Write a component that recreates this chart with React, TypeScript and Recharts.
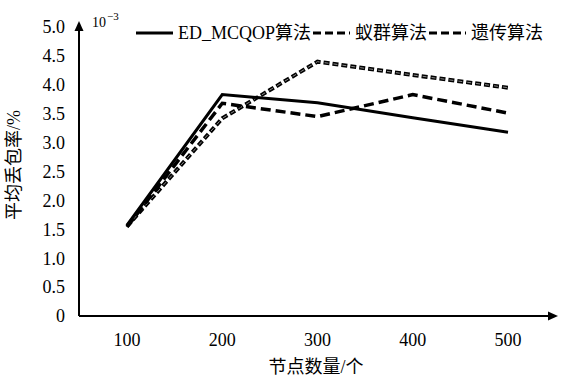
import React from 'react';
import { LineChart, Line, XAxis, YAxis, Legend, Label } from 'recharts';

const categories = ['100', '200', '300', '400', '500'];
const edMcqop = [1.57, 3.83, 3.69, 3.43, 3.18];
const antColony = [1.54, 3.68, 3.45, 3.83, 3.51];
const genetic = [1.55, 3.42, 4.4, 4.17, 3.95];
const yTicks = [0, 0.5, 1, 1.5, 2, 2.5, 3, 3.5, 4, 4.5, 5];
const seriesNames = ['ED_MCQOP算法', '蚁群算法', '遗传算法'];
const xLabel = '节点数量/个';
const yLabel = '平均丢包率/%';

const data = categories.map((c, i) => ({
  node: c,
  ed: edMcqop[i],
  ant: antColony[i],
  ga: genetic[i],
}));

const FONT = '"Liberation Serif", "DejaVu Serif", "Noto Sans CJK SC", serif';

const LegendContent = () => (
  <div
    style={{
      display: 'flex',
      alignItems: 'center',
      whiteSpace: 'nowrap',
      fontFamily: FONT,
      fontSize: 18,
      color: '#000',
      lineHeight: '22px',
    }}
  >
    {seriesNames.map((n, i) => (
      <div key={n} style={{ display: 'flex', alignItems: 'center' }}>
        <svg width={37} height={10} style={{ display: 'block' }}>
          <line
            x1={0}
            y1={5}
            x2={37}
            y2={5}
            stroke="#000"
            strokeWidth={3}
            strokeDasharray={i === 0 ? undefined : '8 4'}
          />
        </svg>
        <span style={{ marginLeft: 5, marginRight: 2 }}>{n}</span>
      </div>
    ))}
  </div>
);

const YArrow = (props: any) => {
  const vb = props.viewBox || {};
  const ax = vb.x + vb.width;
  const ay = vb.y;
  return (
    <g>
      <path d={`M${ax},${ay - 6} L${ax - 4.5},${ay + 4} L${ax + 4.5},${ay + 4} z`} fill="#000" />
      <text
        x={20}
        y={165}
        transform="rotate(-90 20 165)"
        textAnchor="middle"
        fontFamily={FONT}
        fontSize={18}
        fill="#000"
      >
        {yLabel}
      </text>
      <text x={92} y={27} fontFamily={FONT} fontSize={14} fill="#000">
        10
        <tspan dx={1} dy={-7} fontSize={11}>
          −3
        </tspan>
      </text>
    </g>
  );
};

const XArrow = (props: any) => {
  const vb = props.viewBox || {};
  const ax = vb.x + vb.width;
  const ay = vb.y;
  return (
    <g>
      <path d={`M${ax + 3},${ay} L${ax - 7},${ay - 4.5} L${ax - 7},${ay + 4.5} z`} fill="#000" />
      <text x={316} y={373} textAnchor="middle" fontFamily={FONT} fontSize={18} fill="#000">
        {xLabel}
      </text>
    </g>
  );
};

export default function App() {
  return (
    <div style={{ position: 'absolute', left: 0, top: 0, width: 563, height: 378, background: '#fff' }}>
      <LineChart
        width={563}
        height={378}
        data={data}
        margin={{ top: 27, right: 8, left: 0, bottom: 22 }}
      >
        <XAxis
          dataKey="node"
          height={40}
          padding={{ left: 48, right: 47 }}
          tickSize={0}
          tickMargin={17}
          tick={{ fill: '#000', fontSize: 18, fontFamily: FONT }}
          axisLine={{ stroke: '#000', strokeWidth: 2 }}
        >
          <Label content={(p: any) => <XArrow {...p} />} />
        </XAxis>
        <YAxis
          width={79}
          domain={[0, 5]}
          ticks={yTicks}
          interval={0}
          tickSize={0}
          tickMargin={14}
          tickFormatter={(v: number) => (v === 0 ? '0' : v.toFixed(1))}
          tick={{ fill: '#000', fontSize: 18, fontFamily: FONT }}
          axisLine={{ stroke: '#000', strokeWidth: 2 }}
        >
          <Label content={(p: any) => <YArrow {...p} />} />
        </YAxis>
        <Legend
          layout="horizontal"
          verticalAlign="middle"
          wrapperStyle={{ top: 22, left: 136, width: 430 }}
          content={() => <LegendContent />}
        />
        <Line
          type="linear"
          dataKey="ga"
          stroke="#000"
          strokeWidth={4}
          strokeDasharray="6 3"
          dot={false}
          activeDot={false}
          isAnimationActive={false}
        />
        <Line
          type="linear"
          dataKey="ga"
          stroke="#8a8a8a"
          strokeWidth={1}
          strokeDasharray="4 5"
          strokeDashoffset={-1}
          dot={false}
          activeDot={false}
          isAnimationActive={false}
        />
        <Line
          type="linear"
          dataKey="ant"
          stroke="#000"
          strokeWidth={3.5}
          strokeDasharray="10 5"
          dot={false}
          activeDot={false}
          isAnimationActive={false}
        />
        <Line
          type="linear"
          dataKey="ed"
          stroke="#000"
          strokeWidth={3}
          dot={false}
          activeDot={false}
          isAnimationActive={false}
        />
      </LineChart>
    </div>
  );
}
